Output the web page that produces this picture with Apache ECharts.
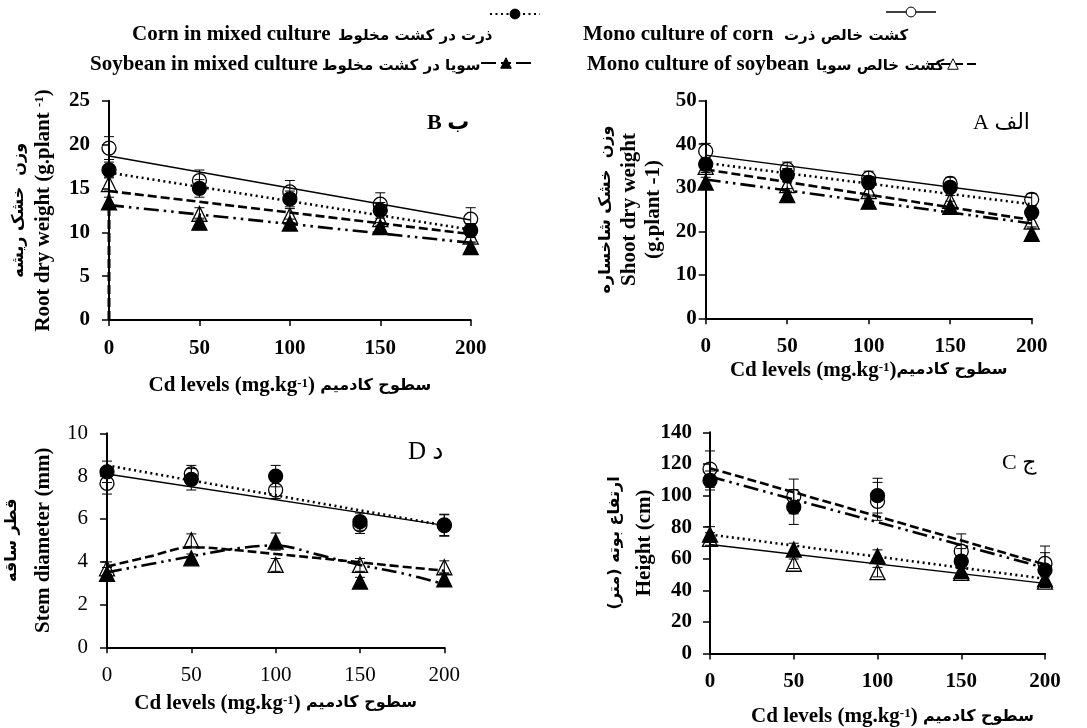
<!DOCTYPE html>
<html>
<head>
<meta charset="utf-8">
<script src="https://cdn.jsdelivr.net/npm/echarts@6/dist/echarts.min.js"></script>
<style>
html, body { margin: 0; padding: 0; background: #fff; }
#main { width: 1087px; height: 728px; }
</style>
</head>
<body>
<div id="main"></div>
<script>
// Cd levels (mg/kg) shared by every panel
const cdLevels = [0, 50, 100, 150, 200];
const trendEnds = [0, 200];

// B - root dry weight (g/plant)
const rootMonoCorn = [19.6, 15.9, 14.6, 13.2, 11.5];
const rootMixCorn = [17.1, 15.0, 13.8, 12.5, 10.2];
const rootMonoSoy = [15.5, 12.1, 11.9, 11.5, 9.5];
const rootMixSoy = [13.4, 11.1, 11.0, 10.6, 8.3];
const rootErrMonoCorn = [1.3, 1.2, 1.3, 1.3, 1.3];
const rootErrMixCorn = [0.9, 1.0, 0.9, 0.9, 0.8];
const rootErrMonoSoy = [0.8, 0.7, 0.8, 0.7, 0.6];
const rootErrMixSoy = [0.6, 0.5, 0.5, 0.5, 0.5];
const rootTrendMonoCorn = [18.7, 11.4];
const rootTrendMixCorn = [16.8, 10.3];
const rootTrendMonoSoy = [14.7, 9.8];
const rootTrendMixSoy = [13.1, 8.8];
const rootStrayDash = [0, 14.3]; // dashed stroke along the y axis at Cd = 0

// A - shoot dry weight (g/plant)
const shootMonoCorn = [38.4, 34.2, 32.2, 31.0, 27.3];
const shootMixCorn = [35.4, 32.9, 31.2, 30.1, 24.3];
const shootMonoSoy = [34.8, 30.6, 29.2, 27.0, 22.2];
const shootMixSoy = [31.2, 28.3, 26.8, 25.6, 19.4];
const shootErrMonoCorn = [1.8, 1.7, 1.6, 1.4, 1.4];
const shootErrMixCorn = [1.5, 1.5, 1.4, 1.2, 1.3];
const shootErrMonoSoy = [1.3, 1.4, 1.3, 1.2, 1.2];
const shootErrMixSoy = [1.2, 1.5, 1.5, 1.3, 1.3];
const shootTrendMonoCorn = [37.5, 27.7];
const shootTrendMixCorn = [35.7, 26.2];
const shootTrendMonoSoy = [34.2, 22.6];
const shootTrendMixSoy = [31.9, 21.8];

// D - stem diameter (mm)
const stemMonoCorn = [7.66, 8.1, 7.35, 5.72, 5.69];
const stemMixCorn = [8.2, 7.85, 8.0, 5.87, 5.72];
const stemMonoSoy = [3.69, 5.0, 3.85, 3.85, 3.74];
const stemMixSoy = [3.43, 4.16, 4.94, 3.07, 3.18];
const stemErrMonoCorn = [0.5, 0.4, 0.4, 0.4, 0.5];
const stemErrMixCorn = [0.5, 0.5, 0.5, 0.4, 0.5];
const stemErrMonoSoy = [0.3, 0.3, 0.3, 0.3, 0.3];
const stemErrMixSoy = [0.3, 0.2, 0.4, 0.2, 0.3];
const stemTrendMonoCorn = [8.1, 5.7];
const stemTrendMixCorn = [8.5, 5.7];
// soybean trends in D are curved, read at these Cd levels
const stemCurveX = [0, 25, 50, 75, 100, 125, 150, 175, 200];
const stemCurveMonoSoy = [3.77, 4.24, 4.68, 4.55, 4.36, 4.17, 3.97, 3.77, 3.58];
const stemCurveMixSoy = [3.5, 3.88, 4.25, 4.6, 4.76, 4.33, 3.85, 3.46, 2.95];

// C - plant height (cm)
const heightMonoCorn = [116.7, 99.4, 96.3, 64.7, 57.0];
const heightMixCorn = [109.5, 92.7, 99.9, 58.4, 52.8];
const heightMonoSoy = [72.5, 56.8, 51.5, 51.0, 45.5];
const heightMixSoy = [75.3, 65.8, 61.6, 52.1, 46.9];
const heightErrMonoCorn = [11.5, 11, 12, 11, 11];
const heightErrMixCorn = [6, 11, 11, 8, 11];
const heightErrMonoSoy = [4, 3, 3, 3, 3];
const heightErrMixSoy = [5, 4, 4, 4, 3];
const heightTrendMonoCorn = [117.3, 56.3];
const heightTrendMixCorn = [112, 54.2];
const heightTrendMonoSoy = [69, 44.4];
const heightTrendMixSoy = [75.3, 47.3];

const SERIF = "'Liberation Serif', 'Times New Roman', 'DejaVu Sans', serif";
const PERSIAN = "'DejaVu Sans', sans-serif";

const lineTypes = {
  solid: { type: 'solid', width: 1.4 },
  dotted: { type: [2, 3.5], width: 2.6 },
  dashed: { type: [9, 4], width: 2.6 },
  dashDot: { type: [15, 5, 2.5, 5, 2.5, 5], width: 2.6 }
};

const markers = {
  monoCorn: { symbol: 'circle', size: 14, fill: 'rgba(0,0,0,0)' },
  mixCorn: { symbol: 'circle', size: 14, fill: '#000' },
  monoSoy: { symbol: 'triangle', size: 15, fill: 'rgba(0,0,0,0)' },
  mixSoy: { symbol: 'triangle', size: 15, fill: '#000' }
};

function pairs(xs, ys) {
  return xs.map((x, i) => [x, ys[i]]);
}

function triples(ys, errs) {
  return cdLevels.map((x, i) => [x, ys[i], errs[i]]);
}

function richWith(enSize, faSize, lineHeight) {
  return {
    e: { fontFamily: SERIF, fontWeight: 'bold', fontSize: enSize, color: '#000', lineHeight: lineHeight },
    p: { fontFamily: PERSIAN, fontWeight: 'bold', fontSize: faSize, color: '#000', lineHeight: lineHeight },
    s: { fontFamily: SERIF, fontWeight: 'bold', fontSize: 13, color: '#000', lineHeight: 14, verticalAlign: 'top', padding: [2, 0, 0, 0] }
  };
}

// panel layout: B (top left), A (top right), D (bottom left), C (bottom right)
const panels = [
  {
    grid: { left: 109, top: 100.7, width: 361.7, height: 219.3 },
    yMax: 25, yInterval: 5, bold: true, yMargin: 19,
    xName: '{e|Cd levels (mg.kg}{s|-1}{e|) }{p|سطوح کادمیم}', xGap: 55, xPad: 0,
    yName: '{p|وزن  خشک ریشه}\n{e|Root dry weight (g.plant }{s|-1}{e|)}', yGap: 53, yLine: 25,
    label: { text: 'B ب', x: 427, y: 123, bold: true, size: 22 },
    sets: [
      { vals: rootMonoCorn, errs: rootErrMonoCorn, trend: rootTrendMonoCorn, m: 'monoCorn', l: 'solid' },
      { vals: rootMixCorn, errs: rootErrMixCorn, trend: rootTrendMixCorn, m: 'mixCorn', l: 'dotted' },
      { vals: rootMonoSoy, errs: rootErrMonoSoy, trend: rootTrendMonoSoy, m: 'monoSoy', l: 'dashed' },
      { vals: rootMixSoy, errs: rootErrMixSoy, trend: rootTrendMixSoy, m: 'mixSoy', l: 'dashDot' }
    ]
  },
  {
    grid: { left: 705.7, top: 100.7, width: 326, height: 217.6 },
    yMax: 50, yInterval: 10, bold: true, yMargin: 9,
    xName: '{e|Cd levels (mg.kg}{s|-1}{e|)}{p|سطوح کادمیم}', xGap: 41, xPad: 0,
    yName: '{p|وزن  خشک شاخساره}\n{e|Shoot dry weight}\n{e|(g.plant -1)}', yGap: 40, yLine: 24,
    label: { text: 'A الف', x: 973, y: 123, bold: false, size: 22 },
    sets: [
      { vals: shootMonoCorn, errs: shootErrMonoCorn, trend: shootTrendMonoCorn, m: 'monoCorn', l: 'solid' },
      { vals: shootMixCorn, errs: shootErrMixCorn, trend: shootTrendMixCorn, m: 'mixCorn', l: 'dotted' },
      { vals: shootMonoSoy, errs: shootErrMonoSoy, trend: shootTrendMonoSoy, m: 'monoSoy', l: 'dashed' },
      { vals: shootMixSoy, errs: shootErrMixSoy, trend: shootTrendMixSoy, m: 'mixSoy', l: 'dashDot' }
    ]
  },
  {
    grid: { left: 107, top: 433.3, width: 337.3, height: 214 },
    yMax: 10, yInterval: 2, bold: false, yMargin: 19,
    xName: '{e|Cd levels (mg.kg}{s|-1}{e|) }{p|سطوح کادمیم}', xGap: 45, xPad: 0,
    yName: '{p|قطر ساقه}\n{e|Stem diameter (mm)}', yGap: 47, yLine: 32,
    label: { text: 'D د', x: 408, y: 452, bold: false, size: 25 },
    sets: [
      { vals: stemMonoCorn, errs: stemErrMonoCorn, trend: stemTrendMonoCorn, m: 'monoCorn', l: 'solid' },
      { vals: stemMixCorn, errs: stemErrMixCorn, trend: stemTrendMixCorn, m: 'mixCorn', l: 'dotted' },
      { vals: stemMonoSoy, errs: stemErrMonoSoy, curve: stemCurveMonoSoy, m: 'monoSoy', l: 'dashed' },
      { vals: stemMixSoy, errs: stemErrMixSoy, curve: stemCurveMixSoy, m: 'mixSoy', l: 'dashDot' }
    ]
  },
  {
    grid: { left: 710, top: 432.3, width: 335, height: 222 },
    yMax: 140, yInterval: 20, bold: true, yMargin: 18,
    xName: '{e|Cd levels (mg.kg}{s|-1}{e|) }{p|سطوح کادمیم}', xGap: 52, xPad: 30,
    yName: '{p|ارتفاع بوته (متر)\u200F}\n{e|Height (cm)}', yGap: 50, yLine: 30,
    label: { text: 'C ج', x: 1002, y: 463, bold: false, size: 22 },
    sets: [
      { vals: heightMonoCorn, errs: heightErrMonoCorn, trend: heightTrendMonoCorn, m: 'monoCorn', l: 'dashed' },
      { vals: heightMixCorn, errs: heightErrMixCorn, trend: heightTrendMixCorn, m: 'mixCorn', l: 'dashDot' },
      { vals: heightMonoSoy, errs: heightErrMonoSoy, trend: heightTrendMonoSoy, m: 'monoSoy', l: 'solid' },
      { vals: heightMixSoy, errs: heightErrMixSoy, trend: heightTrendMixSoy, m: 'mixSoy', l: 'dotted' }
    ]
  }
];

function errorBars(params, api) {
  const x = api.value(0), y = api.value(1), e = api.value(2);
  const top = api.coord([x, y + e]);
  const bot = api.coord([x, y - e]);
  const h = 5;
  const st = { stroke: '#000', lineWidth: 1 };
  return {
    type: 'group',
    children: [
      { type: 'line', shape: { x1: top[0], y1: top[1], x2: bot[0], y2: bot[1] }, style: st },
      { type: 'line', shape: { x1: top[0] - h, y1: top[1], x2: top[0] + h, y2: top[1] }, style: st },
      { type: 'line', shape: { x1: bot[0] - h, y1: bot[1], x2: bot[0] + h, y2: bot[1] }, style: st }
    ]
  };
}

const grids = [], xAxes = [], yAxes = [], series = [], graphics = [];

panels.forEach((p, k) => {
  grids.push(Object.assign({ containLabel: false }, p.grid));
  const weight = p.bold ? 'bold' : 'normal';
  xAxes.push({
    type: 'value', gridIndex: k, min: 0, max: 200, interval: 50,
    axisLine: { show: true, onZero: false, lineStyle: { color: '#000', width: 2 } },
    axisTick: { show: true, length: 6, lineStyle: { color: '#000', width: 1.5 } },
    splitLine: { show: false },
    axisLabel: { color: '#000', fontFamily: SERIF, fontSize: 21, fontWeight: weight, margin: 18 },
    name: p.xName, nameLocation: 'middle', nameGap: p.xGap,
    nameTextStyle: { rich: richWith(21, 16, 22), padding: [0, 0, 0, p.xPad] }
  });
  yAxes.push({
    type: 'value', gridIndex: k, min: 0, max: p.yMax, interval: p.yInterval,
    axisLine: { show: true, onZero: false, lineStyle: { color: '#000', width: 2 } },
    axisTick: { show: true, length: 7, lineStyle: { color: '#000', width: 1.5 } },
    splitLine: { show: false },
    axisLabel: { color: '#000', fontFamily: SERIF, fontSize: 21, fontWeight: weight, margin: p.yMargin },
    name: p.yName, nameLocation: 'middle', nameRotate: 90, nameGap: p.yGap,
    nameTextStyle: { rich: richWith(21, 16, p.yLine) }
  });

  p.sets.forEach(s => {
    const mk = markers[s.m];
    series.push({
      type: 'custom', xAxisIndex: k, yAxisIndex: k, z: 1,
      renderItem: errorBars, encode: { x: 0, y: 1 },
      data: triples(s.vals, s.errs), silent: true
    });
    series.push({
      type: 'line', xAxisIndex: k, yAxisIndex: k, z: 2,
      data: s.curve ? pairs(stemCurveX, s.curve) : pairs(trendEnds, s.trend),
      smooth: s.curve ? 0.35 : false, showSymbol: false, silent: true,
      lineStyle: Object.assign({ color: '#000' }, lineTypes[s.l])
    });
    series.push({
      type: 'scatter', xAxisIndex: k, yAxisIndex: k, z: 3,
      data: pairs(cdLevels, s.vals), symbol: mk.symbol, symbolSize: mk.size,
      itemStyle: { color: mk.fill, borderColor: '#000', borderWidth: 1.3, opacity: 1 },
      silent: true
    });
  });

  graphics.push({
    type: 'text', x: p.label.x, y: p.label.y,
    style: {
      text: p.label.text, fill: '#000', fontFamily: SERIF, fontSize: p.label.size,
      fontWeight: p.label.bold ? 'bold' : 'normal', verticalAlign: 'middle'
    }
  });
});

// stray dashed stroke on the root panel's y axis
series.push({
  type: 'line', xAxisIndex: 0, yAxisIndex: 0, z: 2, showSymbol: false, silent: true,
  data: pairs([0, 0], rootStrayDash),
  lineStyle: { color: '#000', width: 3, type: [9, 4] }
});

// legend, drawn as text plus small sample marks
const legendItems = [
  { en: 'Corn in mixed culture', fa: 'ذرت در کشت مخلوط', x: 132, fx: 338, y: 35, mx: 490, my: 14, m: 'mixCorn', l: 'dotted' },
  { en: 'Mono culture of corn', fa: 'کشت خالص ذرت', x: 583, fx: 784, y: 35, mx: 886, my: 12, m: 'monoCorn', l: 'solid' },
  { en: 'Soybean in mixed culture', fa: 'سویا در کشت مخلوط', x: 90, fx: 322, y: 65, mx: 481, my: 63, m: 'mixSoy', l: 'dashDot' },
  { en: 'Mono culture of soybean', fa: 'کشت خالص سویا', x: 587, fx: 816, y: 65, mx: 928, my: 64, m: 'monoSoy', l: 'dashed' }
];

legendItems.forEach(it => {
  const lt = lineTypes[it.l];
  const mk = markers[it.m];
  graphics.push({
    type: 'text', x: it.x, y: it.y,
    style: { text: it.en, fill: '#000', fontFamily: SERIF, fontSize: 21, fontWeight: 'bold', verticalAlign: 'middle' }
  });
  graphics.push({
    type: 'text', x: it.fx, y: it.y + 1,
    style: { text: it.fa, fill: '#000', fontFamily: PERSIAN, fontSize: 15, fontWeight: 'bold', verticalAlign: 'middle' }
  });
  graphics.push({
    type: 'line', shape: { x1: it.mx, y1: it.my, x2: it.mx + 50, y2: it.my },
    style: { stroke: '#000', lineWidth: Math.min(lt.width, 2), lineDash: lt.type === 'solid' ? null : lt.type }
  });
  const sz = mk.size * 0.7;
  if (mk.symbol === 'circle') {
    graphics.push({
      type: 'circle', shape: { cx: it.mx + 25, cy: it.my, r: sz / 2 },
      style: { fill: mk.fill === '#000' ? '#000' : '#fff', stroke: '#000', lineWidth: 1 }
    });
  } else {
    graphics.push({
      type: 'polygon',
      shape: { points: [[it.mx + 25, it.my - sz / 2], [it.mx + 25 + sz / 2, it.my + sz / 2], [it.mx + 25 - sz / 2, it.my + sz / 2]] },
      style: { fill: mk.fill === '#000' ? '#000' : '#fff', stroke: '#000', lineWidth: 1 }
    });
  }
});

const myChart = echarts.init(document.getElementById('main'), null, { renderer: 'canvas' });
myChart.setOption({
  animation: false,
  backgroundColor: '#fff',
  grid: grids,
  xAxis: xAxes,
  yAxis: yAxes,
  series: series,
  graphic: graphics
});
window.addEventListener('resize', () => myChart.resize());
</script>
</body>
</html>
